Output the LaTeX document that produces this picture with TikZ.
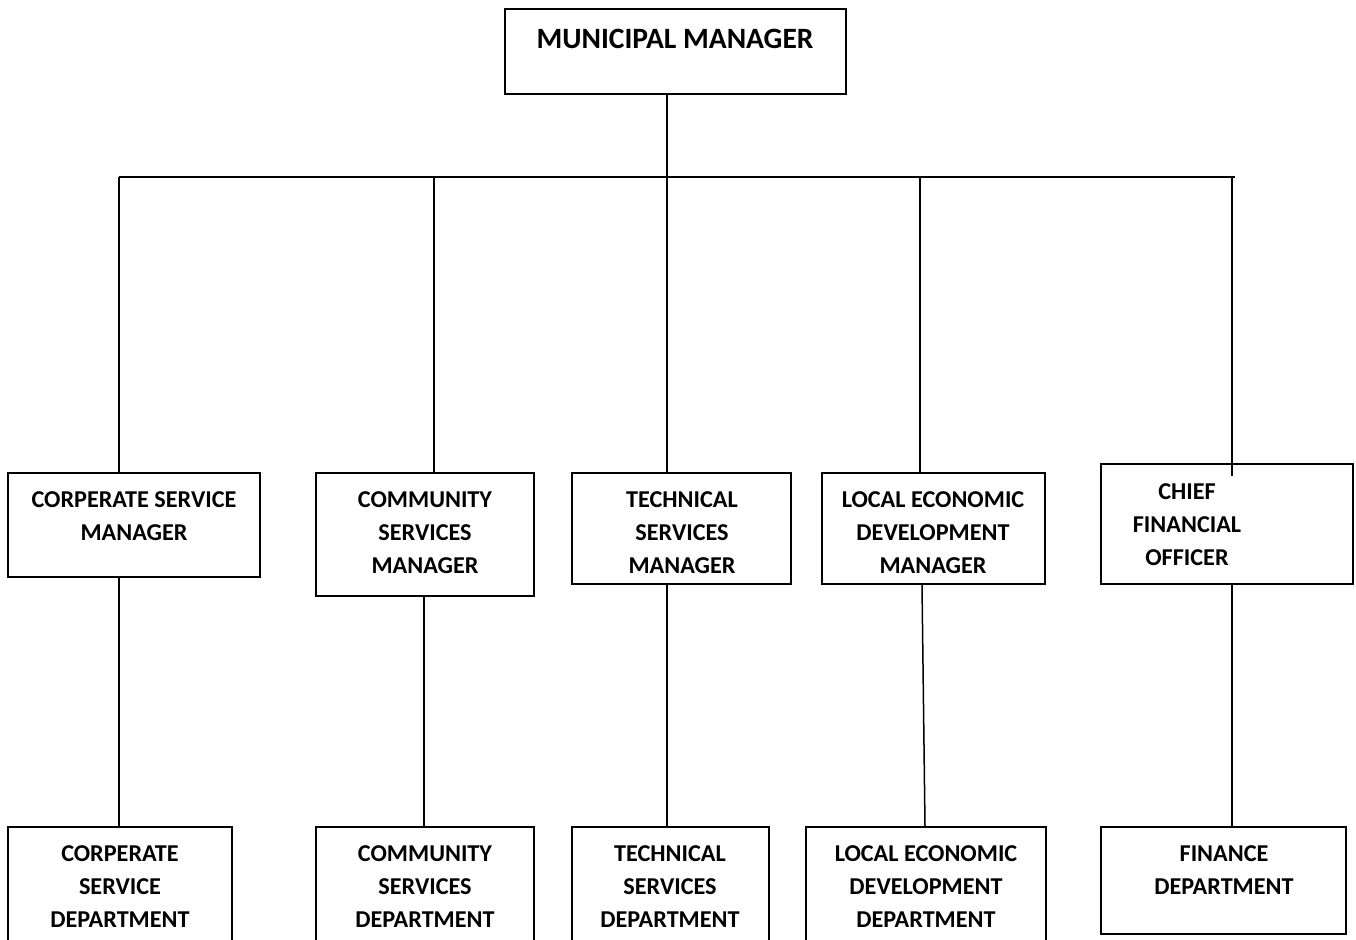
\documentclass[tikz,border=0pt]{standalone}
\usepackage{fontspec}
\setmainfont{Carlito}
\begin{document}
\begin{tikzpicture}[x=1pt,y=1pt,
  box/.style={draw, line width=1.5pt, rectangle, inner sep=0pt},
  lbl/.style={align=center, inner sep=0pt, font=\bfseries\fontsize{24.2}{33}\selectfont},
  toplbl/.style={align=center, inner sep=0pt, font=\bfseries\fontsize{29.5}{34}\selectfont},
  conn/.style={line width=1.5pt}]
\clip (0,0) rectangle (1356,-939);
\fill[white] (0,0) rectangle (1356,-939);
% top
\node[box, minimum width=341pt, minimum height=85pt] (mm) at (675.5,-51.5) {};
\node[toplbl] (mmt) at (675,-39) {MUNICIPAL MANAGER};
% row 1
\node[box, minimum width=252pt, minimum height=104pt] (m1) at (134,-525) {};
\node[box, minimum width=218pt, minimum height=123pt] (m2) at (425,-534.5) {};
\node[box, minimum width=219pt, minimum height=111pt] (m3) at (681.5,-528.5) {};
\node[box, minimum width=223pt, minimum height=111pt] (m4) at (933.5,-528.5) {};
\node[box, minimum width=252pt, minimum height=120pt] (m5) at (1227,-524) {};
\node[lbl] (m1t) at (134,-516.5) {CORPERATE SERVICE\\MANAGER};
\node[lbl] (m2t) at (425,-533) {COMMUNITY\\SERVICES\\MANAGER};
\node[lbl] (m3t) at (682,-533) {TECHNICAL\\SERVICES\\MANAGER};
\node[lbl] (m4t) at (933,-533) {LOCAL ECONOMIC\\DEVELOPMENT\\MANAGER};
\node[lbl] (m5t) at (1187,-524.5) {CHIEF\\FINANCIAL\\OFFICER};
% row 2
\node[box, minimum width=224pt, minimum height=133pt] (d1) at (120,-893.5) {};
\node[box, minimum width=218pt, minimum height=133pt] (d2) at (425,-893.5) {};
\node[box, minimum width=197pt, minimum height=133pt] (d3) at (670.5,-893.5) {};
\node[box, minimum width=240pt, minimum height=133pt] (d4) at (926,-893.5) {};
\node[box, minimum width=245pt, minimum height=107pt] (d5) at (1223.5,-880.5) {};
\node[lbl] (d1t) at (120,-886.5) {CORPERATE\\SERVICE\\DEPARTMENT};
\node[lbl] (d2t) at (425,-886.5) {COMMUNITY\\SERVICES\\DEPARTMENT};
\node[lbl] (d3t) at (670,-886.5) {TECHNICAL\\SERVICES\\DEPARTMENT};
\node[lbl] (d4t) at (926,-886.5) {LOCAL ECONOMIC\\DEVELOPMENT\\DEPARTMENT};
\node[lbl] (d5t) at (1224,-870) {FINANCE\\DEPARTMENT};
% bus coordinates
\coordinate (b1) at (119,-177);
\coordinate (b2) at (434,-177);
\coordinate (b3) at (667,-177);
\coordinate (b4) at (920,-177);
\coordinate (b5) at (1232,-177);
\coordinate (bend) at (1235,-177);
\coordinate (x1) at (119,0);
\coordinate (x2) at (424,0);
\coordinate (x3) at (667,0);
\coordinate (x4a) at (922,0);
\coordinate (x4b) at (925,0);
\coordinate (x5) at (1232,0);
\coordinate (cfoin) at (1232,-476);
% connectors
\draw[conn] (mm.south -| b3) -- (b3);
\draw[conn] (b1) -- (bend);
\draw[conn] (b1) -- (m1.north -| b1);
\draw[conn] (b2) -- (m2.north -| b2);
\draw[conn] (b3) -- (m3.north -| b3);
\draw[conn] (b4) -- (m4.north -| b4);
\draw[conn] (b5) -- (cfoin);
\draw[conn] (m1.south -| x1) -- (d1.north -| x1);
\draw[conn] (m2.south -| x2) -- (d2.north -| x2);
\draw[conn] (m3.south -| x3) -- (d3.north -| x3);
\draw[conn] (m4.south -| x4a) -- (d4.north -| x4b);
\draw[conn] (m5.south -| x5) -- (d5.north -| x5);
\end{tikzpicture}
\end{document}
